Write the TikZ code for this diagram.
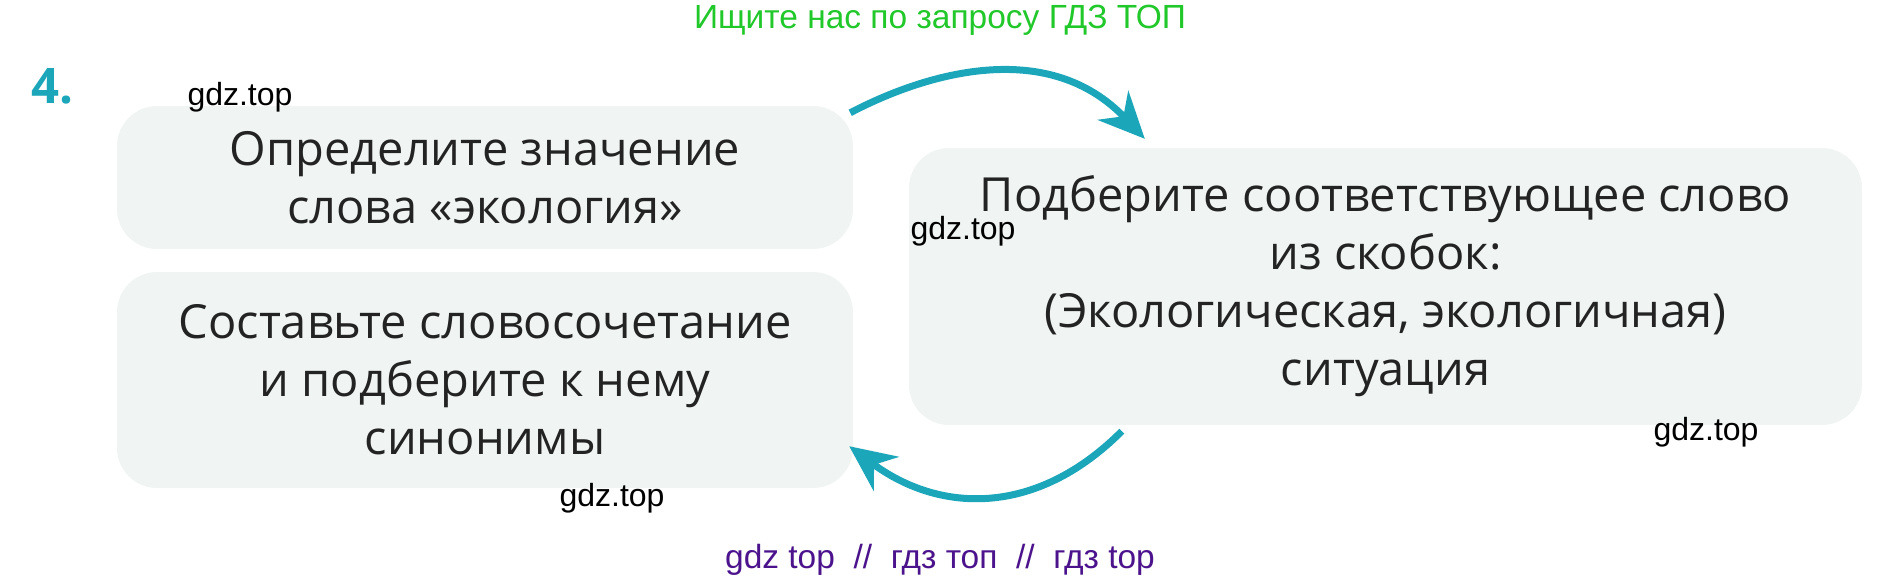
\documentclass[tikz,border=0pt]{standalone}
\usepackage{fontspec}
\setmainfont{Open Sans}
\newfontfamily\wmfont{Liberation Sans}
\usetikzlibrary{calc}
\usetikzlibrary{arrows.meta}
\definecolor{tealarrow}{RGB}{27,166,186}
\definecolor{panelfill}{RGB}{240,245,243}
\definecolor{panelink}{RGB}{35,35,35}
\definecolor{wmgreen}{RGB}{32,200,42}
\definecolor{wmpurple}{RGB}{76,20,140}
\tikzset{
	panel/.style={fill=panelfill, rounded corners=40pt, align=center, text=panelink,
		font=\fontsize{47}{58}\selectfont, inner sep=0pt},
	wmark/.style={anchor=base, font=\wmfont\fontsize{32}{38}\selectfont},
	cyclearrow/.style={tealarrow, line width=7pt,
		-{Stealth[length=46pt, width=42pt, inset=15pt]}}
}

\begin{document}
\begin{tikzpicture}[x=1pt, y=-1pt]
			\useasboundingbox (0,0) rectangle (1879,582);
			\node[wmark, text=wmgreen, font=\wmfont\fontsize{33.5}{40}\selectfont] (search) at (940,28) {Ищите нас по запросу ГДЗ ТОП};
			\node[anchor=base west, text=tealarrow, font=\bfseries\fontsize{49}{56}\selectfont] (num) at (28,103) {4.};
			\node[panel, minimum width=736pt, minimum height=143pt] (define) at (485,177.5) {Определите значение\\слова «экология»};
			\node[panel, minimum width=736pt, minimum height=216pt] (compose) at (485,380) {Составьте словосочетание\\и подберите к нему\\синонимы};
			\node[panel, minimum width=953pt, minimum height=277pt] (choose) at (1385.5,286.5) {Подберите соответствующее слово\\из скобок:\\(Экологическая, экологичная)\\ситуация};
			\draw[cyclearrow] ($(define.north east)+(-3,7)$) .. controls +(80,-42) and +(-95,-100) .. ($(choose.north west)+(236,-9)$);
			\draw[cyclearrow] ($(choose.south west)+(213,6)$) .. controls +(-86,86) and +(90,67) .. ($(compose.south east)+(-4,-42)$);
			\node[wmark] (wm1) at (240,105) {gdz.top};
			\node[wmark] (wm2) at (963,239) {gdz.top};
			\node[wmark] (wm3) at (1706,440) {gdz.top};
			\node[wmark] (wm4) at (612,506) {gdz.top};
			\node[wmark, text=wmpurple, font=\wmfont\fontsize{33.5}{40}\selectfont] (footer) at (940,568) {gdz top~~//~~гдз топ~~//~~гдз top};
		\end{tikzpicture}
\end{document}
